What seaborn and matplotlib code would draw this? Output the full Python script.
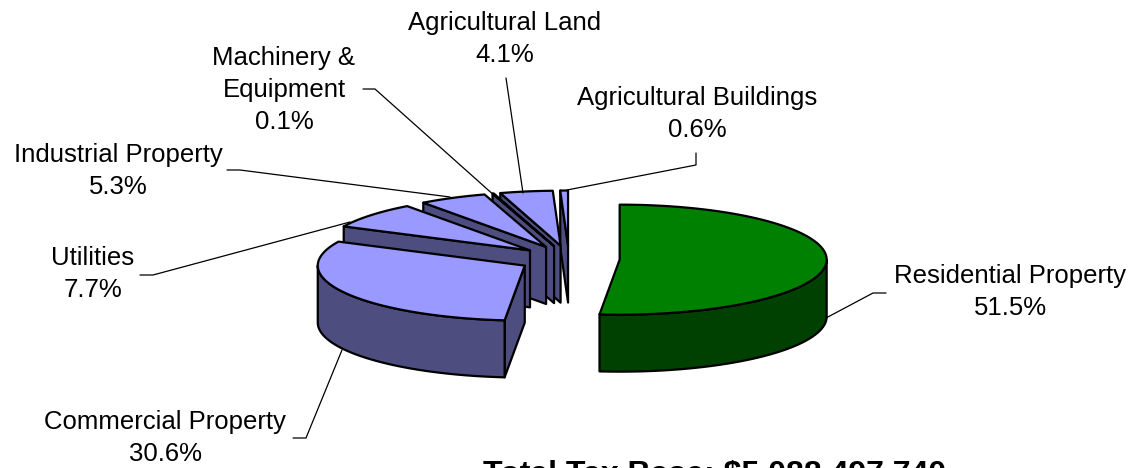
import numpy as np
import matplotlib
matplotlib.use("Agg")
import matplotlib.pyplot as plt
from matplotlib.patches import Polygon
import seaborn as sns

# --- data ---
categories = ["Residential Property", "Commercial Property", "Utilities",
              "Industrial Property", "Machinery &\nEquipment",
              "Agricultural Land", "Agricultural Buildings"]
shares = [51.5, 30.6, 7.7, 5.3, 0.1, 4.1, 0.6]
top_colors = ["#008000"] + ["#9999FF"] * 6
side_colors = ["#004000"] + ["#4D4D80"] * 6
total_label = "Total Tax Base: $5,088,497,740"

sns.set_theme(style="white")
plt.rcParams["font.family"] = ["Liberation Sans", "DejaVu Sans"]

# pie geometry in pixel units (y grows downward)
CX, CY = 569, 259
RX, RY = 207, 55
DEPTH = 57
EXPLODE = 0.245


def rim(cx, cy, ang, dz=0.0):
    a = np.radians(np.atleast_1d(ang))
    return np.column_stack([cx + RX * np.sin(a), cy - RY * np.cos(a) + dz])


fig = plt.figure(figsize=(11.35, 4.68), dpi=100)
ax = fig.add_axes([0, 0, 1, 1])
ax.set_xlim(0, 1135)
ax.set_ylim(468, 0)
ax.axis("off")

frac = np.array(shares) / sum(shares)
edges = np.concatenate([[0], np.cumsum(frac) * 360])

slices = []
for i in range(len(shares)):
    a, b = edges[i], edges[i + 1]
    mid = np.radians((a + b) / 2)
    cx = CX + EXPLODE * RX * np.sin(mid)
    cy = CY - EXPLODE * RY * np.cos(mid)
    slices.append((cy, i, a, b, cx))

kw = dict(closed=True, ec="black", lw=1.6, joinstyle="round")
for cy, i, a, b, cx in sorted(slices):
    apex = np.array([[cx, cy]])
    apex_lo = apex + [0, DEPTH]
    faces = []
    # radial side faces facing the viewer
    if np.cos(np.radians(a - 90)) < -1e-6:
        p, q = rim(cx, cy, a), rim(cx, cy, a, DEPTH)
        faces.append(np.vstack([apex, p, q, apex_lo]))
    if np.cos(np.radians(b + 90)) < -1e-6:
        p, q = rim(cx, cy, b), rim(cx, cy, b, DEPTH)
        faces.append(np.vstack([apex, p, q, apex_lo]))
    # outer curved wall (front half only)
    lo, hi = max(a, 90), min(b, 270)
    if hi > lo:
        arc = np.linspace(lo, hi, 80)
        faces.append(np.vstack([rim(cx, cy, arc), rim(cx, cy, arc[::-1], DEPTH)]))
    for f in faces:
        ax.add_patch(Polygon(f, fc=side_colors[i], **kw))
    arc = np.linspace(a, b, max(3, int((b - a) * 2)))
    ax.add_patch(Polygon(np.vstack([apex, rim(cx, cy, arc)]), fc=top_colors[i], **kw))

# labels
label_pos = [(1010, 292), (165, 438), (93, 274), (118, 171),
             (284, 90), (505, 39), (697, 114)]
for cat, s, (x, y) in zip(categories, shares, label_pos):
    ax.text(x, y, f"{cat}\n{s:.1f}%", ha="center", va="center",
            multialignment="center", fontsize=18.5, linespacing=1.4, color="black")

leaders = [
    [(886, 293), (873, 293), (826, 318)],
    [(293, 438), (306, 438), (342, 350)],
    [(140, 275), (153, 275), (350, 222)],
    [(227, 170), (240, 170), (450, 197)],
    [(363, 89), (375, 89), (496, 197)],
    [(506, 78), (523, 193)],
    [(696, 153), (696, 165), (567, 190)],
]
for pts in leaders:
    xs, ys = zip(*pts)
    ax.plot(xs, ys, color="black", lw=0.9)

# the tax-base caption runs off the bottom edge, as in the original
ax.text(483, 460, total_label, ha="left", va="top", fontsize=23,
        fontweight="bold", color="black")

fig.savefig("out.png", dpi=100)
